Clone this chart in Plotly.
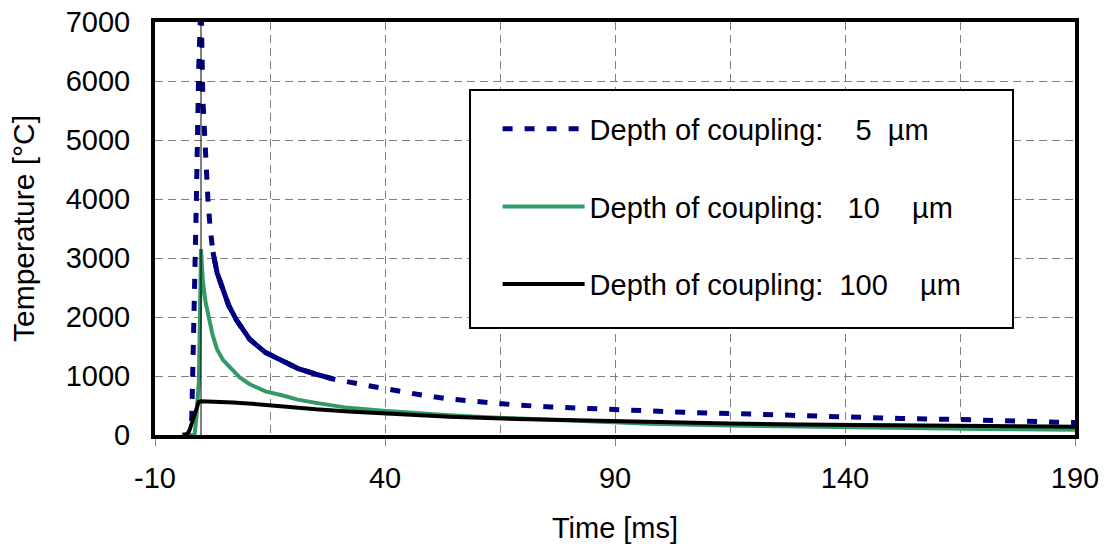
import plotly.graph_objects as go

# ---- data ----
t_5um = [-4, -2.3, -2, -1.5, -1, -0.5, 0, 0.4, 1, 1.5, 2, 2.6, 3.5, 4.4, 6, 7.7, 10.6, 14, 17.8,
         21, 25, 28.7, 34, 39.6, 47, 54, 61, 68.6, 76, 83, 94, 105, 115, 128, 140, 152, 165, 178, 190]
T_5um = [0, 0, 300, 1800, 4000, 6200, 7400, 5700, 4500, 4000, 3500, 3100, 2750, 2550, 2200, 1950,
         1620, 1400, 1250, 1130, 1030, 950, 870, 790, 690, 610, 555, 508, 475, 450, 412, 385, 365,
         330, 305, 280, 262, 240, 210]

t_10um = [-4, -1.4, -1, -0.45, 0, 0.4, 1, 1.9, 2.5, 3.5, 4.8, 6.9, 8.5, 10.6, 14, 17.8, 21, 25,
          32, 39.6, 47, 54, 61, 68.6, 83, 97.6, 115, 130, 150, 170, 190]
T_10um = [0, 0, 300, 930, 3150, 2600, 2250, 1950, 1700, 1450, 1270, 1100, 970, 860, 740, 670, 600,
          545, 460, 410, 365, 335, 305, 280, 228, 190, 160, 140, 120, 100, 88]

t_100um = [-4, -3, -2.5, -2, -1.5, -1, -0.5, 0, 3, 7, 11, 15, 21, 25, 32, 40, 47, 54, 68.6, 83,
           97.6, 115, 130, 150, 170, 190]
T_100um = [0, 10, 80, 200, 350, 480, 560, 570, 565, 550, 530, 500, 460, 435, 400, 367, 335, 311,
           271, 243, 220, 195, 180, 165, 152, 138]

NB = "\u00a0"
names = ["Depth of coupling:" + NB * 4 + "5" + NB * 2 + "µm",
         "Depth of coupling:" + NB * 3 + "10" + NB * 4 + "µm",
         "Depth of coupling:" + NB * 2 + "100" + NB * 4 + "µm"]

x_ticks = [-10, 40, 90, 140, 190]
x_tick_labels = ["-10", "40", "90", "140", "190"]
x_range = [-10, 190]
y_range = [0, 7000]

FONT = "Arial, Liberation Sans, sans-serif"
NAVY = "#000080"
GREEN = "#339966"

fig = go.Figure()
fig.add_trace(go.Scatter(x=t_5um, y=T_5um, mode="lines", name=names[0], legendgroup="a",
                         line=dict(color=NAVY, width=5, dash="10px,12px")))
# densely sampled part of the 5 µm curve renders as a continuous stroke in the original
dense = [i for i, t in enumerate(t_5um) if 2.6 <= t <= 28.7]
fig.add_trace(go.Scatter(x=[t_5um[i] for i in dense], y=[T_5um[i] for i in dense],
                         mode="lines", showlegend=False, legendgroup="a",
                         line=dict(color=NAVY, width=5)))
fig.add_trace(go.Scatter(x=t_10um, y=T_10um, mode="lines", name=names[1], legendgroup="b",
                         line=dict(color=GREEN, width=4)))
fig.add_trace(go.Scatter(x=t_100um, y=T_100um, mode="lines", name=names[2], legendgroup="c",
                         line=dict(color="#000000", width=4)))

# thin reference line at t = 0
fig.add_vline(x=0, line=dict(color="#000000", width=1))

# legend frame (opaque white box)
fig.add_shape(type="rect", xref="paper", yref="paper",
              x0=0.3424, x1=0.9326, y0=0.2591, y1=0.8354,
              line=dict(color="#000000", width=2), fillcolor="white", layer="above")

fig.update_layout(
    width=1107, height=544,
    margin=dict(l=155, r=32, t=22, b=109),
    paper_bgcolor="white", plot_bgcolor="white",
    font=dict(family=FONT, size=29, color="#000000"),
    showlegend=True,
    legend=dict(x=0.3724, y=0.803, xanchor="left", yanchor="top",
                bgcolor="rgba(0,0,0,0)", borderwidth=0,
                font=dict(size=29), tracegroupgap=37, itemwidth=82),
    xaxis=dict(range=x_range, tickvals=x_ticks, ticktext=x_tick_labels, showgrid=True,
               gridcolor="#808080", gridwidth=1.3, griddash="8px,5px",
               minor=dict(dtick=25, tick0=-10, showgrid=True, gridcolor="#808080",
                          gridwidth=1.3, griddash="8px,5px"),
               ticks="outside", ticklen=7, tickcolor="#808080", tickwidth=1,
               ticklabelstandoff=7, automargin=False,
               showline=True, linecolor="#000000", linewidth=4, mirror=True,
               zeroline=False, tickfont=dict(size=29),
               title=dict(text="Time [ms]", standoff=27, font=dict(size=29))),
    yaxis=dict(range=y_range, dtick=1000, showgrid=True,
               gridcolor="#808080", gridwidth=1.3, griddash="8px,5px",
               ticks="", ticklabelstandoff=15, automargin=False,
               showline=True, linecolor="#000000", linewidth=4, mirror=True,
               zeroline=False, tickfont=dict(size=29),
               title=dict(text="Temperature [°C]", standoff=23, font=dict(size=30))),
)

# remove the browser's default 8px body margin so the figure sits at the window origin
fig.write_html("out.html", config={"displayModeBar": False},
               post_script="document.body.style.margin='0px';")
